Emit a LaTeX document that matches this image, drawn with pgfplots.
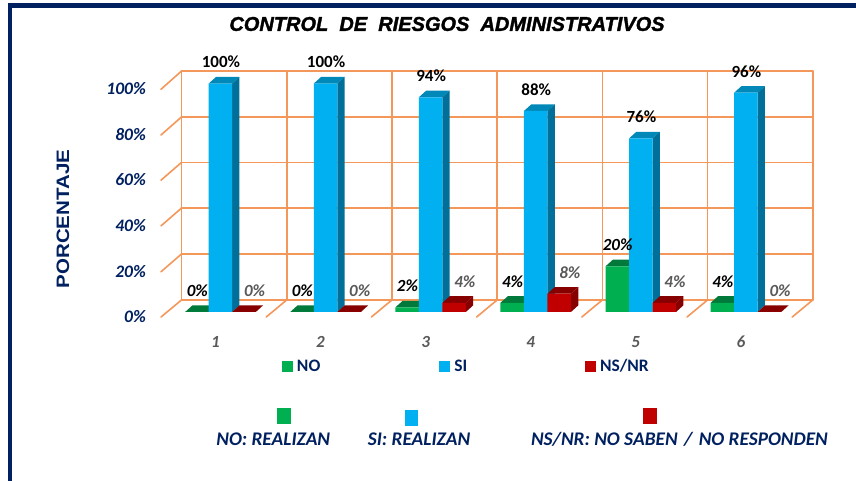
\documentclass[border=0pt]{standalone}
\usepackage{pgfplots}
\pgfplotsset{compat=1.18}
\usepackage{fontspec}
\setmainfont{Carlito}
\newfontfamily\arialf{Liberation Sans}
\newfontfamily\titlef[FakeBold=1.6]{Liberation Sans}
\definecolor{navy}{HTML}{002060}
\definecolor{grd}{HTML}{F4975A}
\definecolor{gfront}{HTML}{00B050}
\definecolor{gdark}{HTML}{00793A}
\definecolor{bfront}{HTML}{00B0F0}
\definecolor{bside}{HTML}{006F9A}
\definecolor{btop}{HTML}{0088B8}
\definecolor{rfront}{HTML}{C00000}
\definecolor{rdark}{HTML}{860000}
\definecolor{lab}{HTML}{595959}
% bar geometry in data units
\def\bw{0.2236}\def\dx{0.0695}\def\dy{2.89}
% faces: shift (in bar widths), side colour, top colour, list cat/value
\newcommand\Faces[4]{%
  \foreach \c/\v in {#4}{%
    \pgfmathsetmacro\xa{\c+(#1-0.5)*\bw}%
    \pgfmathsetmacro\xb{\c+(#1+0.5)*\bw}%
    \pgfmathsetmacro\xc{\xa+\dx}%
    \pgfmathsetmacro\xd{\xb+\dx}%
    \pgfmathsetmacro\yt{\v+\dy}%
    \edef\tmp{\noexpand\addplot[forget plot,fill=#3,draw=none] coordinates {(\xa,\v) (\xc,\yt) (\xd,\yt) (\xb,\v)};
      \noexpand\addplot[forget plot,fill=#2,draw=none] coordinates {(\xb,0) (\xd,\dy) (\xd,\yt) (\xb,\v)};}%
    \tmp
  }%
}
% orange 3D frame, values in data units of the picture
\newcommand\Grd[1]{\addplot[forget plot,grd,line width=1.6pt,line cap=round] coordinates {#1};}
\newcommand\Lab[4]{\node[font=\bfseries\itshape\fontsize{17}{17}\selectfont,text=#4,inner sep=0pt] at (axis cs:#1,#2) [yshift=21.5pt] {#3};}
\newcommand\Top[3]{\node[font=\bfseries\fontsize{17}{17}\selectfont,inner sep=0pt] at (axis cs:#1,#2) [yshift=21.5pt] {#3};}
\begin{document}
\begin{tikzpicture}
\begin{axis}[
  width=856pt,height=481pt,scale only axis,
  xmin=-1.0971,xmax=7.0476,ymin=-74,ymax=136.6,
  clip=false,
  axis line style={draw=none},
  tick style={draw=none},
  xtick={1,2,3,4,5,6},
  ytick={0,20,40,60,80,100},
  yticklabel={\pgfmathprintnumber{\tick}\%},
  /pgf/number format/assume math mode=true,
  yticklabel style={anchor=east,xshift=146pt,yshift=-5pt,text=navy,inner sep=0pt,
    font=\bfseries\itshape\fontsize{17.5}{17.5}\selectfont},
  xticklabel style={anchor=center,yshift=139pt,xshift=-5pt,text=lab,inner sep=0pt,
    font=\bfseries\itshape\fontsize{17}{17}\selectfont},
  legend style={at={(rel axis cs:0.3300,0.2380)},anchor=west,draw=none,fill=none,inner sep=0pt,outer sep=0pt,
    cells={anchor=west},nodes={inner sep=0pt,text=navy,font=\bfseries\fontsize{17.5}{17.5}\selectfont}},
  legend columns=3,
  legend image code/.code={\fill[#1] (0pt,-5.5pt) rectangle (11pt,5.5pt);},
]
\path (rel axis cs:0,0) rectangle (rel axis cs:1,1);
% frame
\fill[navy] (axis cs:-1.0971,136.6) ++(7.5pt,-3.4pt) rectangle ++(848.5pt,-4.4pt);
\fill[navy] (axis cs:-1.0971,-74) ++(7.5pt,0pt) rectangle ++(4.4pt,473pt);
% back wall horizontals
\Grd{(0.63,5.25) (6.636,5.25)}
\Grd{(0.63,25.4) (6.636,25.4)}
\Grd{(0.63,45.5) (6.636,45.5)}
\Grd{(0.63,65.5) (6.636,65.5)}
\Grd{(0.63,85.4) (6.636,85.4)}
\Grd{(0.63,105.5) (6.636,105.5)}
% back wall verticals
\Grd{(0.63,5.25) (0.63,105.5)}
\Grd{(1.631,5.25) (1.631,105.5)}
\Grd{(2.632,5.25) (2.632,105.5)}
\Grd{(3.633,5.25) (3.633,105.5)}
\Grd{(4.634,5.25) (4.634,105.5)}
\Grd{(5.635,5.25) (5.635,105.5)}
\Grd{(6.636,5.25) (6.636,105.5)}
% side wall
\Grd{(0.435,-2.2) (0.63,5.25)}
\Grd{(0.435,17.6) (0.63,25.4)}
\Grd{(0.435,37.7) (0.63,45.5)}
\Grd{(0.435,57.7) (0.63,65.5)}
\Grd{(0.435,77.5) (0.63,85.4)}
\Grd{(0.435,97.5) (0.63,105.5)}
% floor
\Grd{(1.436,-2.2) (1.631,5.25)}
\Grd{(2.437,-2.2) (2.632,5.25)}
\Grd{(3.438,-2.2) (3.633,5.25)}
\Grd{(4.439,-2.2) (4.634,5.25)}
\Grd{(5.44,-2.2) (5.635,5.25)}
\Grd{(6.441,-2.2) (6.636,5.25)}
% NO
\Faces{-1}{gdark}{gdark}{1/0,2/0,3/2,4/4,5/20,6/4}
\addplot[forget plot,ybar,bar width=23.5pt,bar shift=-23.5pt,fill=gfront,draw=none] coordinates {(1,0) (2,0) (3,2) (4,4) (5,20) (6,4)};
% SI
\Faces{0}{bside}{btop}{1/100,2/100,3/94,4/88,5/76,6/96}
\addplot[forget plot,ybar,bar width=23.5pt,bar shift=0pt,fill=bfront,draw=none] coordinates {(1,100) (2,100) (3,94) (4,88) (5,76) (6,96)};
% NS/NR
\Faces{1}{rdark}{rdark}{1/0,2/0,3/4,4/8,5/4,6/0}
\addplot[forget plot,ybar,bar width=23.5pt,bar shift=23.5pt,fill=rfront,draw=none] coordinates {(1,0) (2,0) (3,4) (4,8) (5,4) (6,0)};
% data labels
\Top{1.005}{100}{100\%}\Top{2.005}{100}{100\%}\Top{3.005}{94}{94\%}\Top{4.005}{88}{88\%}\Top{5.005}{76}{76\%}\Top{6.005}{96}{96\%}
\Lab{0.78}{0}{0\%}{black}\Lab{1.78}{0}{0\%}{black}\Lab{2.78}{2}{2\%}{black}\Lab{3.78}{4}{4\%}{black}\Lab{4.78}{20}{20\%}{black}\Lab{5.78}{4}{4\%}{black}
\Lab{1.325}{0}{0\%}{lab}\Lab{2.325}{0}{0\%}{lab}\Lab{3.325}{4}{4\%}{lab}\Lab{4.325}{8}{8\%}{lab}\Lab{5.325}{4}{4\%}{lab}\Lab{6.325}{0}{0\%}{lab}
% title and axis title
\node[font=\titlef\bfseries\itshape\fontsize{20}{20}\selectfont,inner sep=0pt] at (rel axis cs:0.5222,0.9501) {CONTROL\ \ DE\ \ RIESGOS\ \ ADMINISTRATIVOS};
\node[font=\arialf\bfseries\fontsize{18}{18}\selectfont,text=navy,inner sep=0pt,rotate=90] at (rel axis cs:0.0736,0.5447) {\scalebox{1.14}[1]{PORCENTAJE}};
% legend
\addlegendimage{fill=gfront,draw=none}\addlegendentry{\makebox[145.8pt][l]{\hspace{3.5pt}NO}}
\addlegendimage{fill=bfront,draw=none}\addlegendentry{\makebox[134.4pt][l]{\hspace{4pt}SI}}
\addlegendimage{fill=rfront,draw=none}\addlegendentry{\hspace{4.4pt}NS/NR}
% explanatory key
\addplot[forget plot,only marks,mark=square*,mark size=6.5pt,mark options={yscale=1.18},gfront] coordinates {(1.600,-45.5)};
\addplot[forget plot,only marks,mark=square*,mark size=6pt,mark options={yscale=1.28},bfront] coordinates {(2.818,-46.2)};
\addplot[forget plot,only marks,mark=square*,mark size=6.3pt,mark options={yscale=1.22},rfront] coordinates {(5.087,-45.5)};
\node[font=\bfseries\itshape\fontsize{19.3}{19.3}\selectfont,text=navy,inner sep=0pt] at (rel axis cs:0.3192,0.0874) {NO: REALIZAN};
\node[font=\bfseries\itshape\fontsize{19.3}{19.3}\selectfont,text=navy,inner sep=0pt] at (rel axis cs:0.4895,0.0874) {SI: REALIZAN};
\node[font=\bfseries\itshape\fontsize{19.3}{19.3}\selectfont,text=navy,inner sep=0pt] at (rel axis cs:0.7938,0.0874) {NS/NR: NO SABEN\hspace{2pt} / \hspace{2pt}NO RESPONDEN};
\end{axis}
\end{tikzpicture}
\end{document}
